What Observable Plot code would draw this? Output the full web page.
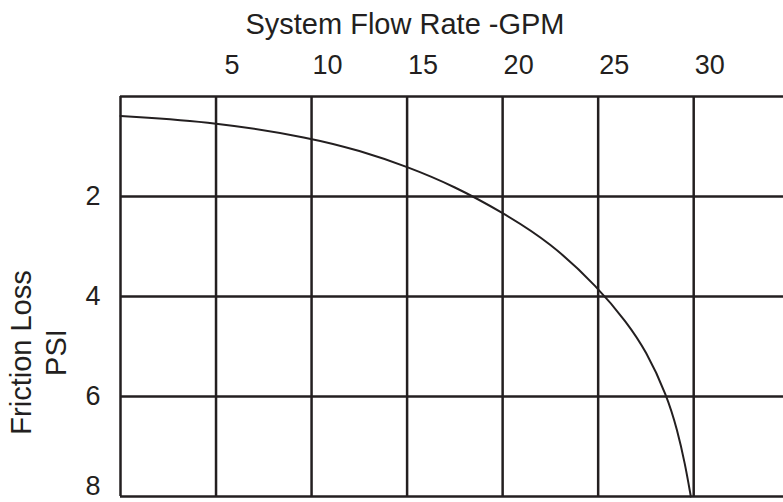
<!DOCTYPE html>
<html>
<head>
<meta charset="utf-8">
<script src="https://cdn.jsdelivr.net/npm/d3@7"></script>
<script src="https://cdn.jsdelivr.net/npm/@observablehq/plot@0.6"></script>
<style>
  html, body { margin: 0; padding: 0; background: #fff; }
</style>
</head>
<body>
<div id="chart"></div>
<script>
const flowGPM = [0, 5, 10, 12.5, 15, 17.5, 20, 22.5, 25, 26.5, 27.5, 28.6, 29.15, 29.55, 29.85];
const lossPSI = [0.39, 0.51, 0.83, 1.08, 1.40, 1.80, 2.32, 2.92, 3.82, 4.52, 5.08, 5.98, 6.68, 7.35, 8.0];
const xGrid = [0, 5, 10, 15, 20, 25, 30];
const xTickLabels = [5, 10, 15, 20, 25, 30];
const yGrid = [0, 2, 4, 6, 8];
const yTickLabels = [2, 4, 6, 8];
const xTitle = "System Flow Rate -GPM";
const yTitle = "Friction Loss\nPSI";

const curve = flowGPM.map((x, i) => ({x, y: lossPSI[i]}));
const ink = "#231f20";
const font = "'Liberation Sans', Arial, Helvetica, sans-serif";
const yMax = d3.max(yGrid);

const chart = Plot.plot({
  width: 783,
  height: 502,
  marginTop: 96,
  marginBottom: 6,
  marginLeft: 120,
  marginRight: 0,
  style: {fontFamily: font, background: "#fff", overflow: "visible"},
  x: {domain: [0, 34.7], axis: null},
  y: {domain: [0, 8], reverse: true, axis: null},
  marks: [
    Plot.ruleX(xGrid, {x: d => d, stroke: ink, strokeWidth: 2.5}),
    Plot.ruleY(yGrid, {y: d => d, stroke: ink, strokeWidth: 2.5}),
    Plot.line(curve, {x: "x", y: "y", curve: "basis", stroke: ink, strokeWidth: 2}),
    Plot.text(xTickLabels, {x: d => d, frameAnchor: "top", dy: -31, dx: 16, lineAnchor: "middle", fontSize: 27, fill: ink}),
    Plot.text(yTickLabels.filter(d => d < yMax), {y: d => d, frameAnchor: "left", dx: -20, textAnchor: "end", lineAnchor: "middle", fontSize: 27, fill: ink}),
    Plot.text(yTickLabels.filter(d => d >= yMax), {y: d => d, frameAnchor: "left", dx: -20, dy: -10, textAnchor: "end", lineAnchor: "middle", fontSize: 27, fill: ink}),
    Plot.text([xTitle], {text: d => d, frameAnchor: "top", dx: -47, dy: -72, lineAnchor: "middle", fontSize: 29, fill: ink}),
    Plot.text([yTitle], {text: d => d, frameAnchor: "left", dx: -83, dy: 56, rotate: -90, lineAnchor: "middle", textAnchor: "middle", lineHeight: 1.2, fontSize: 29, fill: ink})
  ]
});
document.getElementById("chart").appendChild(chart);
</script>
</body>
</html>
